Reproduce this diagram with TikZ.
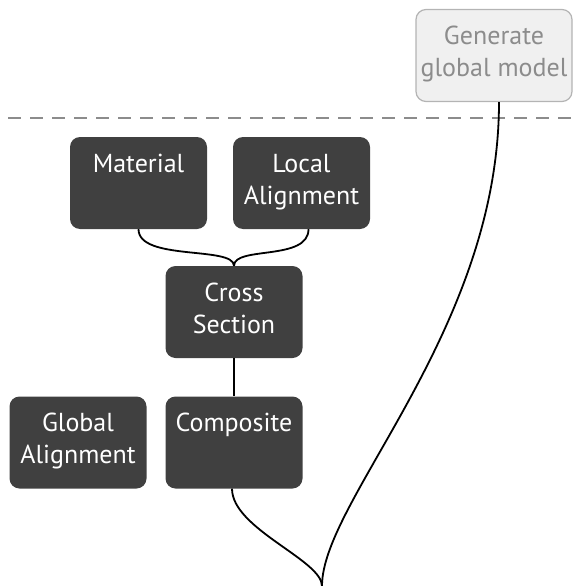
\documentclass[tikz,border=0pt]{standalone}
\usepackage{fontspec}
\setmainfont{PT Sans}
\usetikzlibrary{positioning}

\definecolor{taskfill}{HTML}{404040}
\definecolor{genfill}{HTML}{F0F0F0}
\definecolor{genedge}{HTML}{B4B4B4}
\definecolor{gentext}{HTML}{8C8C8C}
\definecolor{splitline}{HTML}{8C8C8C}

% text sits at the top of the box, first baseline 35pt down
\newcommand{\tasktext}[2][137pt]{\parbox[t][92pt][t]{#1}{\centering\fontsize{26}{32}\selectfont\rule{0pt}{35pt}#2}}

\tikzset{
  task/.style={fill=taskfill,text=white,rounded corners=10pt,inner sep=0pt},
  gentask/.style={task,fill=genfill,draw=genedge,line width=1.2pt,text=gentext},
  wire/.style={draw=black,line width=1.8pt},
}

\begin{document}
\begin{tikzpicture}[x=1pt,y=-1pt]
\useasboundingbox (0,0) rectangle (574,586);

\draw[splitline,line width=2pt,dash pattern=on 13pt off 9pt] (8,118) -- (574,118);

\node[gentask] (gen) at (494,55.5) {\tasktext[156pt]{Generate\\global model}};

\node[task] (mat) at (138.5,183) {\tasktext{Material}};
\node[task] (loc) at (301.5,183) {\tasktext{Local\\Alignment}};
\node[task] (cross) at (234,312) {\tasktext{Cross\\Section}};
\node[task] (glob) at (78,442.5) {\tasktext{Global\\Alignment}};
\node[task] (comp) at (234,442.5) {\tasktext{Composite}};

\coordinate (root) at (322,586);

% brace into the cross section
\draw[wire] (mat.south) .. controls +(0,32) and +(0,-20) .. (cross.north);
\draw[wire] ([xshift=7pt]loc.south) .. controls +(0,32) and +(0,-20) .. (cross.north);
\draw[wire] (cross.south) -- (comp.north);

% both branches end in the root
\draw[wire] ([xshift=-2pt]comp.south) .. controls +(0,40) and +(0,-26) .. (root);
\draw[wire] ([xshift=5pt]gen.south) .. controls +(0,228) and +(0,-86) .. (root);
\end{tikzpicture}
\end{document}
